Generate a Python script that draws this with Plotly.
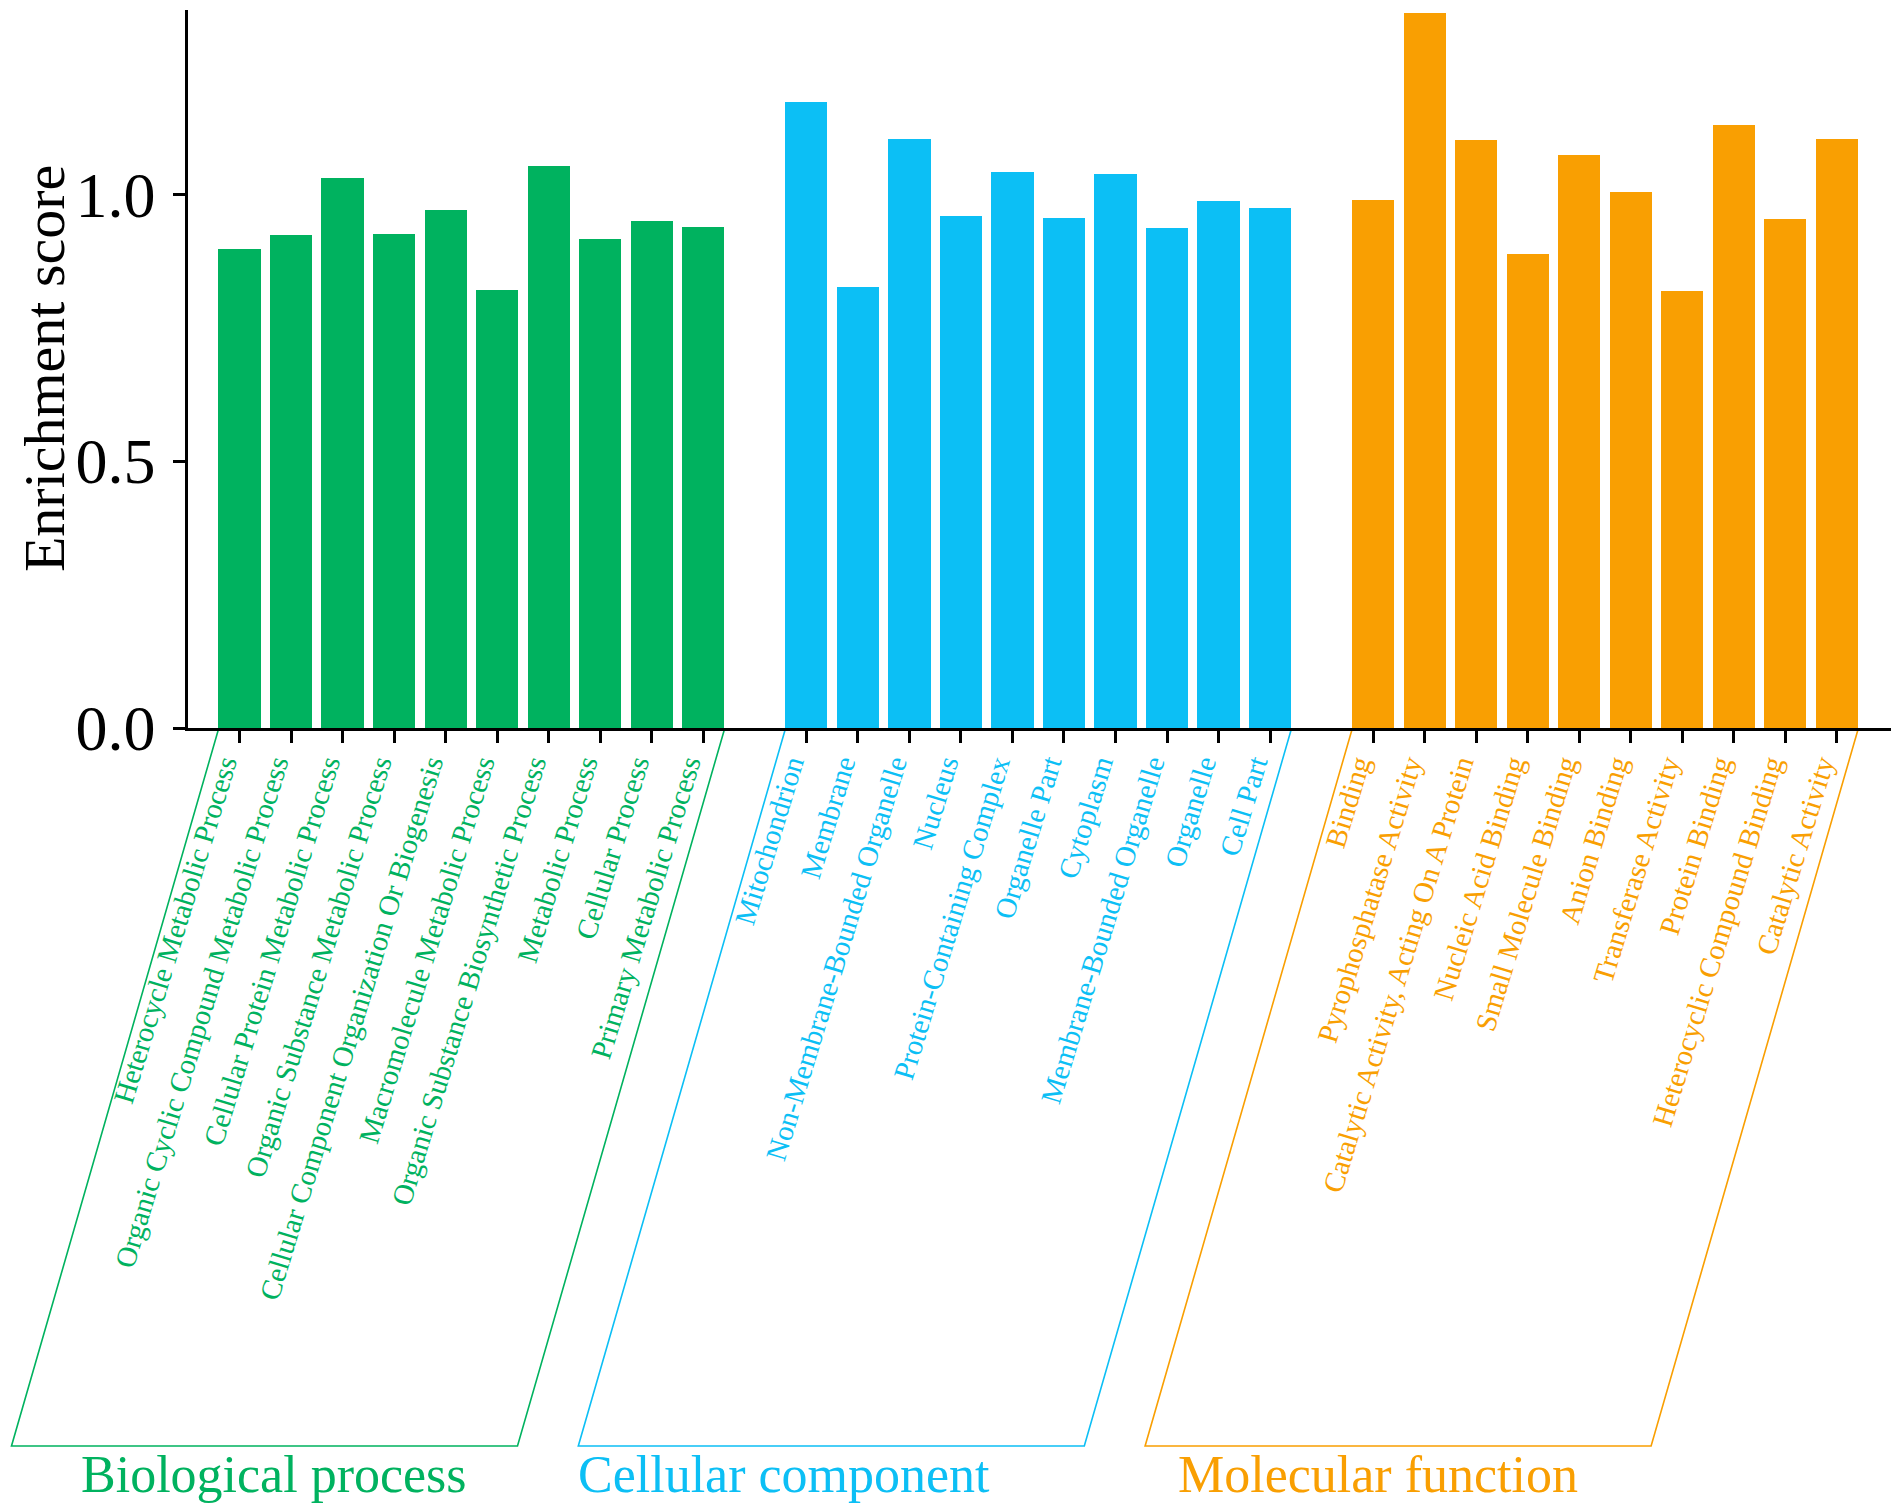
import plotly.graph_objects as go

# ---------------- data ----------------
groups = ["Biological process", "Cellular component", "Molecular function"]

bp_terms = [
    "Heterocycle Metabolic Process",
    "Organic Cyclic Compound Metabolic Process",
    "Cellular Protein Metabolic Process",
    "Organic Substance Metabolic Process",
    "Cellular Component Organization Or Biogenesis",
    "Macromolecule Metabolic Process",
    "Organic Substance Biosynthetic Process",
    "Metabolic Process",
    "Cellular Process",
    "Primary Metabolic Process",
]
bp_scores = [0.897, 0.923, 1.030, 0.926, 0.971, 0.821, 1.053, 0.916, 0.950, 0.939]

cc_terms = [
    "Mitochondrion",
    "Membrane",
    "Non-Membrane-Bounded Organelle",
    "Nucleus",
    "Protein-Containing Complex",
    "Organelle Part",
    "Cytoplasm",
    "Membrane-Bounded Organelle",
    "Organelle",
    "Cell Part",
]
cc_scores = [1.172, 0.826, 1.104, 0.960, 1.041, 0.955, 1.038, 0.936, 0.988, 0.975]

mf_terms = [
    "Binding",
    "Pyrophosphatase Activity",
    "Catalytic Activity, Acting On A Protein",
    "Nucleic Acid Binding",
    "Small Molecule Binding",
    "Anion Binding",
    "Transferase Activity",
    "Protein Binding",
    "Heterocyclic Compound Binding",
    "Catalytic Activity",
]
mf_scores = [0.990, 1.340, 1.102, 0.888, 1.073, 1.005, 0.819, 1.130, 0.953, 1.104]

y_tick_vals = [0.0, 0.5, 1.0]
y_tick_text = ["0.0", "0.5", "1.0"]
y_title = "Enrichment score"

# ---------------- style ----------------
colors = ["#00B25F", "#0CBFF5", "#F99F02"]
FONT = "Liberation Serif, Times New Roman, serif"
BAR_W = 0.82
X_RANGE = [-1.0, 32.05]
Y_RANGE = [0, 1.345]
label_x_paper = [0.0505, 0.350, 0.699]   # group caption centres (paper)
BRACKET_BOTTOM = -1.0                     # paper y of bracket bottom
BRACKET_SHIFT = 0.1215                    # paper x slant of bracket

terms_by_group = [bp_terms, cc_terms, mf_terms]
scores_by_group = [bp_scores, cc_scores, mf_scores]

fig = go.Figure()
tickvals, ticktext = [], []
positions_by_group = []
for g, (terms, scores, col) in enumerate(zip(terms_by_group, scores_by_group, colors)):
    pos = [g * (len(terms) + 1) + i for i in range(len(terms))]
    positions_by_group.append(pos)
    fig.add_trace(go.Bar(
        x=pos, y=scores, width=BAR_W,
        marker=dict(color=col, line=dict(width=0)),
        name=groups[g], showlegend=False,
        hovertext=terms,
    ))
    tickvals += pos
    ticktext += [f"<span style='color:{col}'>{t}</span>" for t in terms]


def xp(x):
    return (x - X_RANGE[0]) / (X_RANGE[1] - X_RANGE[0])


shapes = []
annotations = []
for g, pos in enumerate(positions_by_group):
    left = xp(pos[0] - BAR_W / 2)
    right = xp(pos[-1] + BAR_W / 2)
    top = -0.002
    path = (f"M {left} {top} L {left - BRACKET_SHIFT} {BRACKET_BOTTOM} "
            f"L {right - BRACKET_SHIFT} {BRACKET_BOTTOM} L {right} {top}")
    shapes.append(dict(type="path", path=path, xref="paper", yref="paper",
                       line=dict(color=colors[g], width=1.6), layer="below"))
    annotations.append(dict(
        text=groups[g], xref="paper", yref="paper",
        x=label_x_paper[g], y=BRACKET_BOTTOM - 0.039,
        xanchor="center", yanchor="middle", showarrow=False,
        font=dict(family=FONT, size=52, color=colors[g]),
    ))

annotations.append(dict(
    text=y_title, xref="paper", yref="paper", x=-0.0845, y=0.5,
    xanchor="center", yanchor="middle", textangle=-90, showarrow=False,
    font=dict(family=FONT, size=58, color="black"),
))

# page body has an 8px margin: figure is sized/offset to compensate
fig.update_layout(
    width=1886, height=1495,
    margin=dict(l=180, r=3, t=2, b=775),
    plot_bgcolor="white", paper_bgcolor="white",
    bargap=0,
    shapes=shapes, annotations=annotations,
    font=dict(family=FONT),
)
fig.update_xaxes(
    range=X_RANGE, showgrid=False, zeroline=False,
    showline=True, linecolor="black", linewidth=2.5,
    ticks="outside", ticklen=12, tickwidth=2.5, tickcolor="black",
    tickmode="array", tickvals=tickvals, ticktext=ticktext,
    tickangle=-73, tickfont=dict(family=FONT, size=29),
    ticklabelshift=-16, ticklabelstandoff=-7,
)
fig.update_yaxes(
    range=Y_RANGE, showgrid=False, zeroline=False,
    showline=True, linecolor="black", linewidth=2.5,
    ticks="outside", ticklen=12, tickwidth=2.5, tickcolor="black",
    tickmode="array", tickvals=y_tick_vals, ticktext=y_tick_text,
    tickfont=dict(family=FONT, size=64, color="black"),
    ticklabelstandoff=5,
)

fig.write_html("out.html")
